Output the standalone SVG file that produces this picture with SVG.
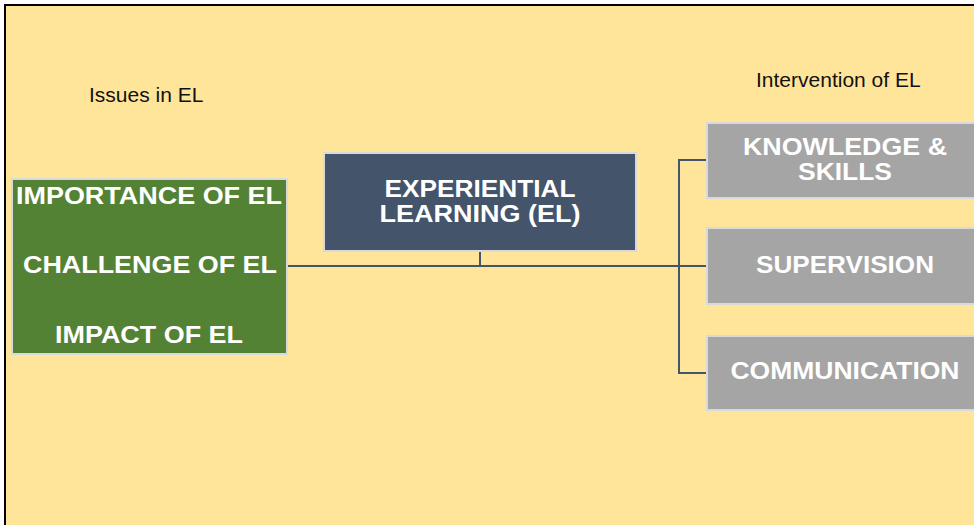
<svg xmlns="http://www.w3.org/2000/svg" width="974" height="525" viewBox="0 0 974 525">
  <style>
    .label { font-family: "Liberation Sans", Arial, sans-serif; font-size: 21px; fill: #111111; }
    .box-text { font-family: "Liberation Sans", Arial, sans-serif; font-weight: bold; font-size: 23px; fill: #FFFFFF; text-anchor: middle; }
    .box { stroke: #D9D9D9; stroke-width: 2; }
    .green { fill: #548235; }
    .navy { fill: #44546A; }
    .grey { fill: #A5A5A5; }
    .link { fill: none; stroke: #44546A; stroke-width: 2; }
  </style>

  <!-- page background and frame -->
  <rect x="0" y="0" width="974" height="525" fill="#FFFFFF"/>
  <rect x="5" y="5" width="975" height="525" fill="#FFE599"/>
  <path d="M5 530 V5 H980" fill="none" stroke="#000000" stroke-width="2"/>

  <!-- section headings -->
  <text class="label" x="89" y="102">Issues in EL</text>
  <text class="label" x="756" y="87">Intervention of EL</text>

  <!-- connectors -->
  <g id="connectors">
    <path class="link" d="M287 266 H707"/>
    <path class="link" d="M480 251 V266"/>
    <path class="link" d="M707 160 H679 V373 H707"/>
  </g>

  <g id="issues">
    <rect class="box green" x="12" y="179" width="275" height="175"/>
    <text class="box-text" x="149" y="204" textLength="266" lengthAdjust="spacingAndGlyphs">IMPORTANCE OF EL</text>
    <text class="box-text" x="150" y="273" textLength="254" lengthAdjust="spacingAndGlyphs">CHALLENGE OF EL</text>
    <text class="box-text" x="149" y="343" textLength="188" lengthAdjust="spacingAndGlyphs">IMPACT OF EL</text>
  </g>

  <g id="experiential-learning">
    <rect class="box navy" x="324" y="153" width="312" height="98"/>
    <text class="box-text" x="480" y="197" textLength="191" lengthAdjust="spacingAndGlyphs">EXPERIENTIAL</text>
    <text class="box-text" x="480" y="222" textLength="201" lengthAdjust="spacingAndGlyphs">LEARNING (EL)</text>
  </g>

  <g id="knowledge-skills">
    <rect class="box grey" x="707" y="123" width="276" height="75"/>
    <text class="box-text" x="845" y="155" textLength="204" lengthAdjust="spacingAndGlyphs">KNOWLEDGE &amp;</text>
    <text class="box-text" x="845" y="180" textLength="94" lengthAdjust="spacingAndGlyphs">SKILLS</text>
  </g>

  <g id="supervision">
    <rect class="box grey" x="707" y="228" width="276" height="76"/>
    <text class="box-text" x="845" y="273" textLength="178" lengthAdjust="spacingAndGlyphs">SUPERVISION</text>
  </g>

  <g id="communication">
    <rect class="box grey" x="707" y="336" width="276" height="74"/>
    <text class="box-text" x="845" y="379" textLength="229" lengthAdjust="spacingAndGlyphs">COMMUNICATION</text>
  </g>
</svg>
